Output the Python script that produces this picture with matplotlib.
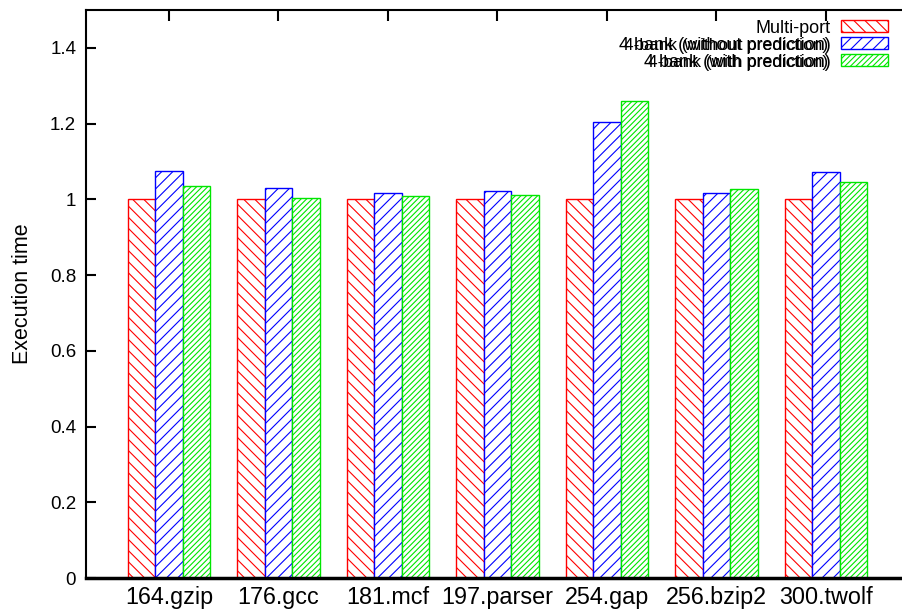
import numpy as np
import matplotlib
matplotlib.use('Agg')
import matplotlib.pyplot as plt
from matplotlib.patches import Patch

plt.rcParams['font.family'] = ['Liberation Sans', 'DejaVu Sans']
plt.rcParams['hatch.linewidth'] = 0.8

# Data
benchmarks = ['164.gzip', '176.gcc', '181.mcf', '197.parser', '254.gap', '256.bzip2', '300.twolf']
multi_port = [1.0, 1.0, 1.0, 1.0, 1.0, 1.0, 1.0]
bank_no_pred = [1.075, 1.031, 1.017, 1.022, 1.205, 1.017, 1.072]
bank_pred = [1.036, 1.003, 1.009, 1.012, 1.26, 1.027, 1.046]
series_labels = ['Multi-port', '4 bank (without prediction)', '4 bank (with prediction)']
yticks = [0, 0.2, 0.4, 0.6, 0.8, 1, 1.2, 1.4]
ytick_labels = ['0', '0.2', '0.4', '0.6', '0.8', '1', '1.2', '1.4']

colors = ['#ff0000', '#0000ff', '#00e600']
hatches = ['\\\\\\', '///', '//////']

fig = plt.figure(figsize=(9.02, 6.09), dpi=100)
ax = fig.add_axes([0.0953, 0.0509, 0.9035, 0.9327])

x = np.arange(len(benchmarks))
width = 0.252
for i, vals in enumerate([multi_port, bank_no_pred, bank_pred]):
    ax.bar(x + (i - 1) * width, vals, width, facecolor='white',
           edgecolor=colors[i], hatch=hatches[i], linewidth=1.0)

ax.set_xlim(-0.758, 6.685)
ax.set_ylim(0, 1.5)
ax.set_yticks(yticks)
ax.set_yticklabels(ytick_labels, fontsize=13.5)
ax.set_xticks(x)
ax.set_xticklabels(benchmarks, fontsize=16.8)
ax.set_ylabel('Execution time', fontsize=15.5)
ax.yaxis.set_label_coords(-0.065, 0.5)

ax.tick_params(axis='y', direction='in', length=7, width=1.5, pad=7, right=False)
ax.tick_params(axis='x', direction='in', length=8, width=1.5, pad=6, bottom=False, top=True)

ax.spines['left'].set_linewidth(1.5)
ax.spines['top'].set_linewidth(1.5)
ax.spines['bottom'].set_linewidth(2.5)
ax.spines['right'].set_visible(False)

handles = [Patch(facecolor='white', edgecolor=colors[i], hatch=hatches[i]) for i in range(3)]
leg = ax.legend(handles, series_labels, loc='upper right', bbox_to_anchor=(0.997, 1.002),
                frameon=False, markerfirst=False, fontsize=13, handlelength=2.6,
                handleheight=0.65, labelspacing=0.0, handletextpad=0.55, borderaxespad=0.2)
for t in leg.get_texts():
    t.set_horizontalalignment('right')

# overlapping duplicate of the bank labels, as in the original
fig.canvas.draw()
rend = fig.canvas.get_renderer()
W = fig.dpi * fig.get_figwidth()
H = fig.dpi * fig.get_figheight()
for t in leg.get_texts()[1:]:
    bb = t.get_window_extent(rend)
    fig.text((bb.x1 - 3) / W, (bb.y0 + bb.y1) / 2 / H,
             t.get_text().replace('4 bank', '4-bank'), fontsize=12.4, ha='right', va='center')

fig.savefig('out.png', dpi=100)
